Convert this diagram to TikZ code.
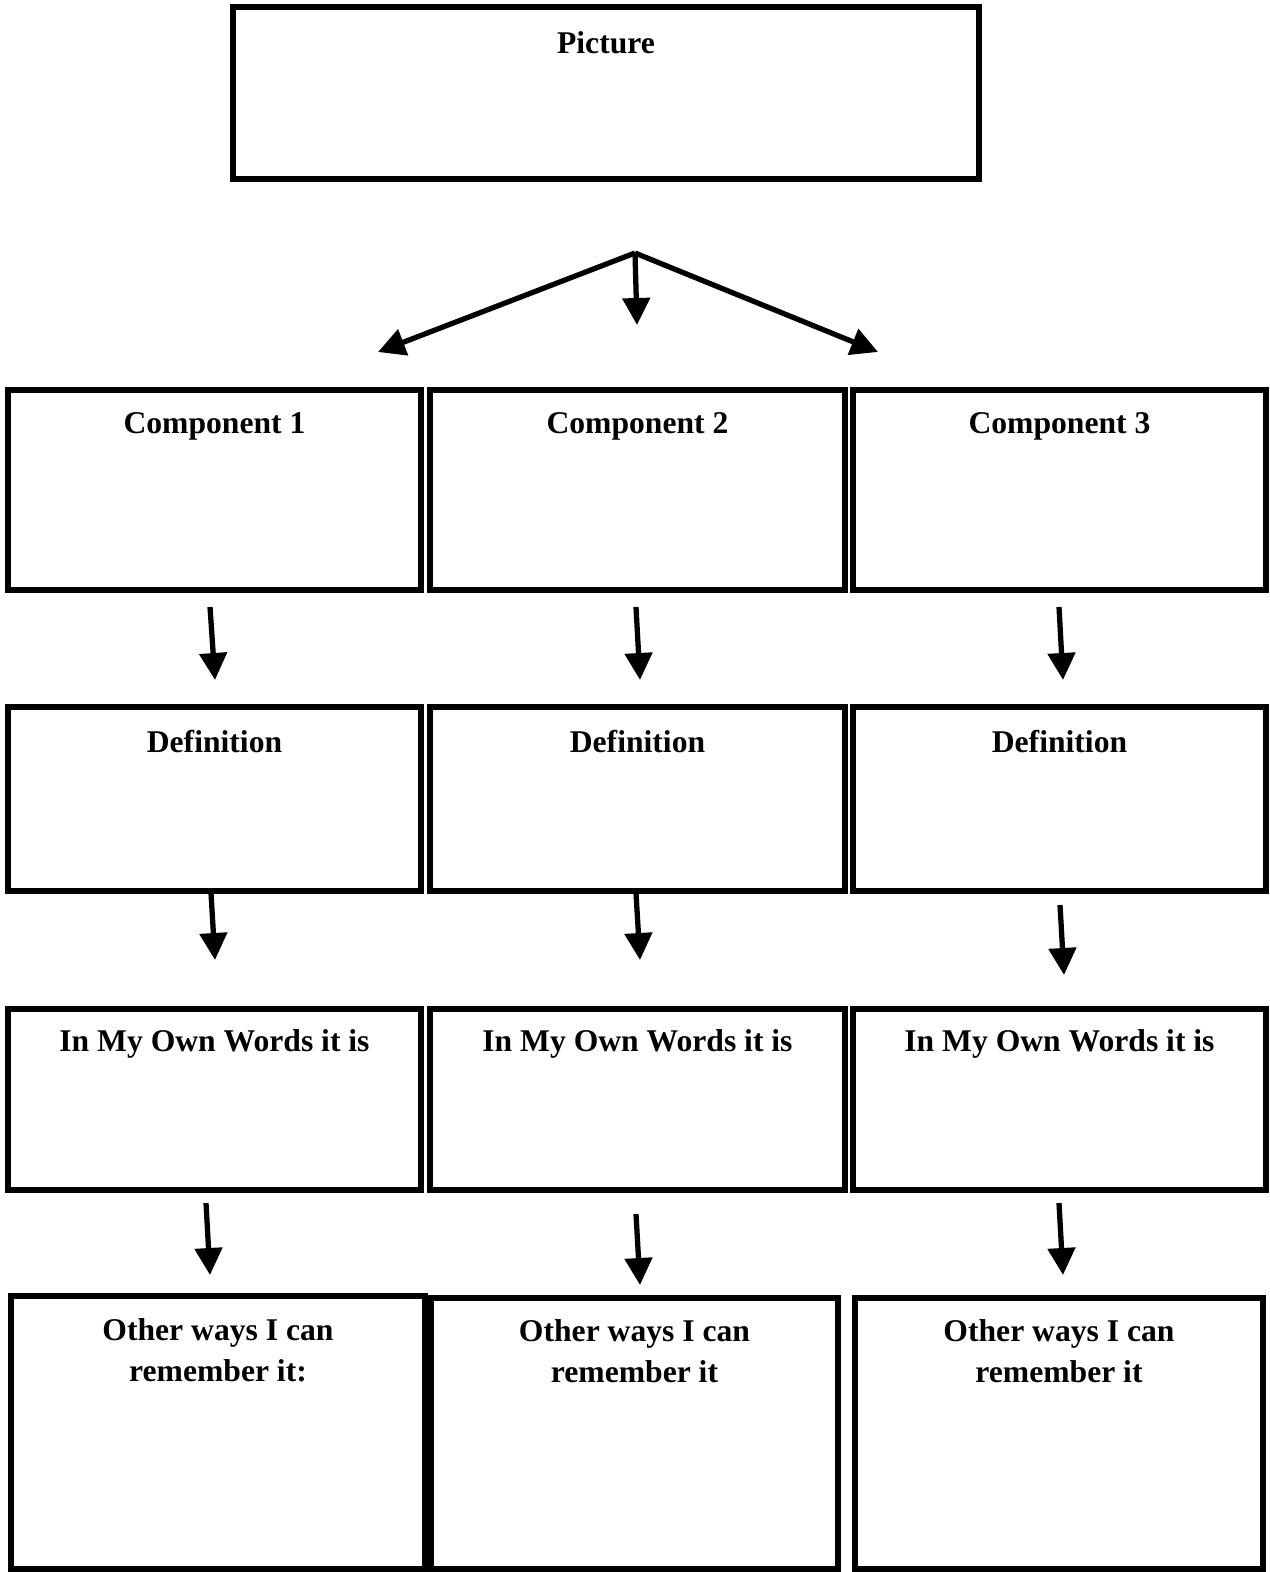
\documentclass[tikz,border=0pt]{standalone}
\usepackage{fontspec}
\setmainfont{Liberation Serif}
\usetikzlibrary{arrows.meta}

\tikzset{
  card/.style={
    draw,
    line width=3.2pt,
    rectangle,
    inner sep=0pt,
  },
  title/.style={
    font=\fontsize{18}{23}\selectfont\bfseries,
    align=center,
    inner sep=0pt,
  },
  link/.style={
    line width=3pt,
    -{Triangle[width=0.54cm,length=0.54cm]},
  },
}

\begin{document}
\begin{tikzpicture}[x=0.02cm,y=-0.02cm]
    \useasboundingbox (0,0) rectangle (1270,1572);

    % top box
    \node[card, minimum width=14.92cm, minimum height=3.44cm] (pic) at (606,93) {};
    \node[title] (picT) at ([shift={(0,39)}]pic.north) {Picture};

    % components
	\node[card, minimum width=8.26cm, minimum height=4.0cm] (comp1) at (214.5,490) {};
	\node[card, minimum width=8.30cm, minimum height=4.0cm] (comp2) at (637.5,490) {};
	\node[card, minimum width=8.26cm, minimum height=4.0cm] (comp3) at (1059.5,490) {};
	\node[title] (comp1T) at ([shift={(0,39)}]comp1.north) {Component 1};
	\node[title] (comp2T) at ([shift={(0,39)}]comp2.north) {Component 2};
	\node[title] (comp3T) at ([shift={(0,39)}]comp3.north) {Component 3};

    % definitions
	\node[card, minimum width=8.26cm, minimum height=3.68cm] (def1) at (214.5,799) {};
	\node[card, minimum width=8.30cm, minimum height=3.68cm] (def2) at (637.5,799) {};
	\node[card, minimum width=8.26cm, minimum height=3.68cm] (def3) at (1059.5,799) {};
	\node[title] (def1T) at ([shift={(0,37)}]def1.north) {Definition};
	\node[title] (def2T) at ([shift={(0,37)}]def2.north) {Definition};
	\node[title] (def3T) at ([shift={(0,37)}]def3.north) {Definition};

    % own words
	\node[card, minimum width=8.26cm, minimum height=3.62cm] (own1) at (214.5,1099.5) {};
	\node[card, minimum width=8.30cm, minimum height=3.62cm] (own2) at (637.5,1099.5) {};
	\node[card, minimum width=8.26cm, minimum height=3.62cm] (own3) at (1059.5,1099.5) {};
	\node[title] (own1T) at ([shift={(0,38)}]own1.north) {In My Own Words it is};
	\node[title] (own2T) at ([shift={(0,38)}]own2.north) {In My Own Words it is};
	\node[title] (own3T) at ([shift={(0,38)}]own3.north) {In My Own Words it is};

    % other ways
	\node[card, minimum width=8.28cm, minimum height=5.46cm] (way1) at (218,1432.5) {};
	\node[card, minimum width=8.14cm, minimum height=5.42cm] (way2) at (634.5,1433.5) {};
	\node[card, minimum width=8.16cm, minimum height=5.42cm] (way3) at (1059,1433.5) {};
	\node[title] (way1T) at ([shift={(0,57)}]way1.north) {Other ways I can\\remember it:};
	\node[title] (way2T) at ([shift={(0,56)}]way2.north) {Other ways I can\\remember it};
	\node[title] (way3T) at ([shift={(0,56)}]way3.north) {Other ways I can\\remember it};

    % arrow ends
    \coordinate (fork) at (635,253);
    \coordinate (forkL) at (378,352);
    \coordinate (forkM) at (637,325);
    \coordinate (forkR) at (878,352);
    \coordinate (a1s) at (210,607);   \coordinate (a1e) at (215,680);
    \coordinate (a2s) at (636,607);   \coordinate (a2e) at (640,680);
    \coordinate (a3s) at (1059,607);  \coordinate (a3e) at (1063,680);
    \coordinate (b1s) at (211,893);   \coordinate (b1e) at (215,960);
    \coordinate (b2s) at (636,893);   \coordinate (b2e) at (640,960);
    \coordinate (b3s) at (1060,905);  \coordinate (b3e) at (1064,975);
    \coordinate (c1s) at (206,1203);  \coordinate (c1e) at (210,1275);
    \coordinate (c2s) at (636,1214);  \coordinate (c2e) at (640,1285);
    \coordinate (c3s) at (1059,1203); \coordinate (c3e) at (1063,1275);

	\draw[link] (fork) -- (forkL);
	\draw[link] (fork) -- (forkM);
	\draw[link] (fork) -- (forkR);
	\draw[link] (a1s) -- (a1e);
	\draw[link] (a2s) -- (a2e);
	\draw[link] (a3s) -- (a3e);
	\draw[link] (b1s) -- (b1e);
	\draw[link] (b2s) -- (b2e);
	\draw[link] (b3s) -- (b3e);
	\draw[link] (c1s) -- (c1e);
	\draw[link] (c2s) -- (c2e);
	\draw[link] (c3s) -- (c3e);

\end{tikzpicture}
\end{document}
